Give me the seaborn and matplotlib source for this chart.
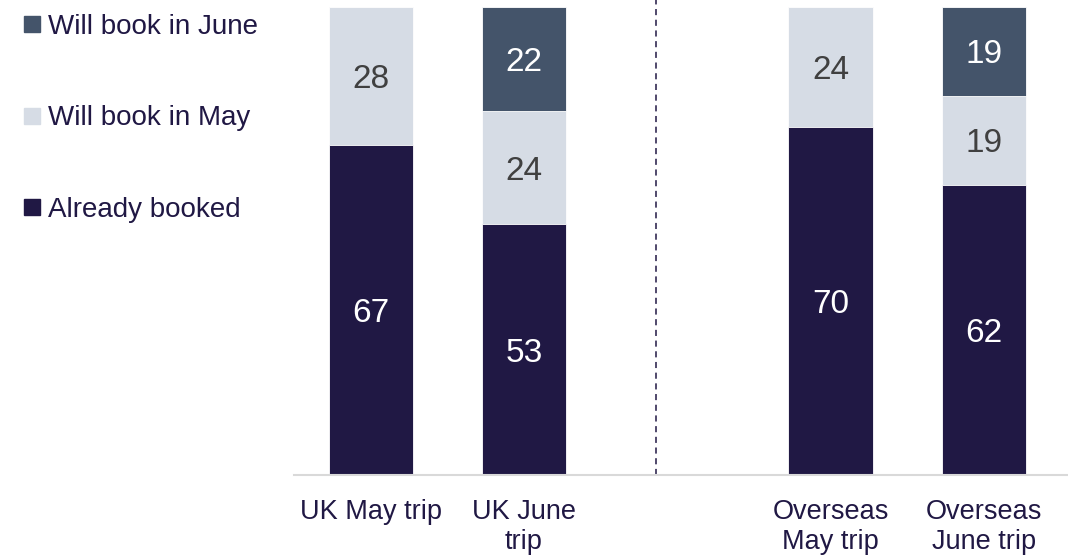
import numpy as np
import pandas as pd
import seaborn as sns
import matplotlib.pyplot as plt
from matplotlib.lines import Line2D

trips = ["UK May trip", "UK June\ntrip", "Overseas\nMay trip", "Overseas\nJune trip"]
already_booked = [67, 53, 70, 62]
book_may = [28, 24, 24, 19]
book_june = [0, 22, 0, 19]

series = ["Already booked", "Will book in May", "Will book in June"]
colors = {"Already booked": "#201844", "Will book in May": "#d6dce5", "Will book in June": "#44546a"}
text_colors = {"Already booked": "white", "Will book in May": "#404040", "Will book in June": "white"}
navy = "#201844"

df = pd.DataFrame({"trip": trips, "Already booked": already_booked,
                   "Will book in May": book_may, "Will book in June": book_june})
total = df[series].sum(axis=1)
# bars are shown stacked to 100%
for s in series:
    df[s + "_pct"] = df[s] / total * 100

order = [trips[0], trips[1], "", trips[2], trips[3]]

sns.set_style("white")
plt.rcParams["font.family"] = ["Liberation Sans", "DejaVu Sans"]

fig = plt.figure(figsize=(10.68, 5.55), dpi=100)
ax = fig.add_axes([0.2753, 0.1441, 0.7247, 0.8559])

# overlay cumulative sums, top layer first
cum = np.zeros(len(df))
cums = []
for s in series:
    cums.append(cum.copy())
    cum = cum + df[s + "_pct"].values
for i in reversed(range(len(series))):
    s = series[i]
    top = cums[i] + df[s + "_pct"].values
    sns.barplot(x=df["trip"], y=top, order=order, color=colors[s], width=0.55,
                saturation=1, edgecolor="white", linewidth=0.6, ax=ax)

# segment labels
for i in range(len(series)):
    s = series[i]
    for j, trip in enumerate(df["trip"]):
        v = df[s].iloc[j]
        if v == 0:
            continue
        xpos = order.index(trip)
        ymid = cums[i][j] + df[s + "_pct"].iloc[j] / 2
        ax.text(xpos, ymid, str(v), ha="center", va="center_baseline", fontsize=24,
                color=text_colors[s])

ax.axvline(1.86, ymin=0, ymax=1, color=navy, linestyle=(0, (4, 3)), linewidth=1.1)

ax.set_xlim(-0.5, 4.55)
ax.set_ylim(0, 101.5)
ax.set_xlabel("")
ax.set_ylabel("")
ax.set_yticks([])
ax.tick_params(axis="x", length=0, pad=17, labelsize=19.5, labelcolor=navy)
for sp in ["top", "right", "left"]:
    ax.spines[sp].set_visible(False)
ax.spines["bottom"].set_color("#d9d9d9")
ax.spines["bottom"].set_linewidth(1.5)

handles = [Line2D([], [], marker="s", linestyle="", markersize=11,
                  markerfacecolor=colors[s], markeredgecolor=colors[s]) for s in reversed(series)]
fig.legend(handles, list(reversed(series)), loc="upper left", bbox_to_anchor=(0.003, 1.01),
           frameon=False, fontsize=20, labelcolor=navy, handlelength=0.7, handletextpad=0.2,
           labelspacing=2.36, borderaxespad=0.3)

fig.savefig("out.png", dpi=100)
